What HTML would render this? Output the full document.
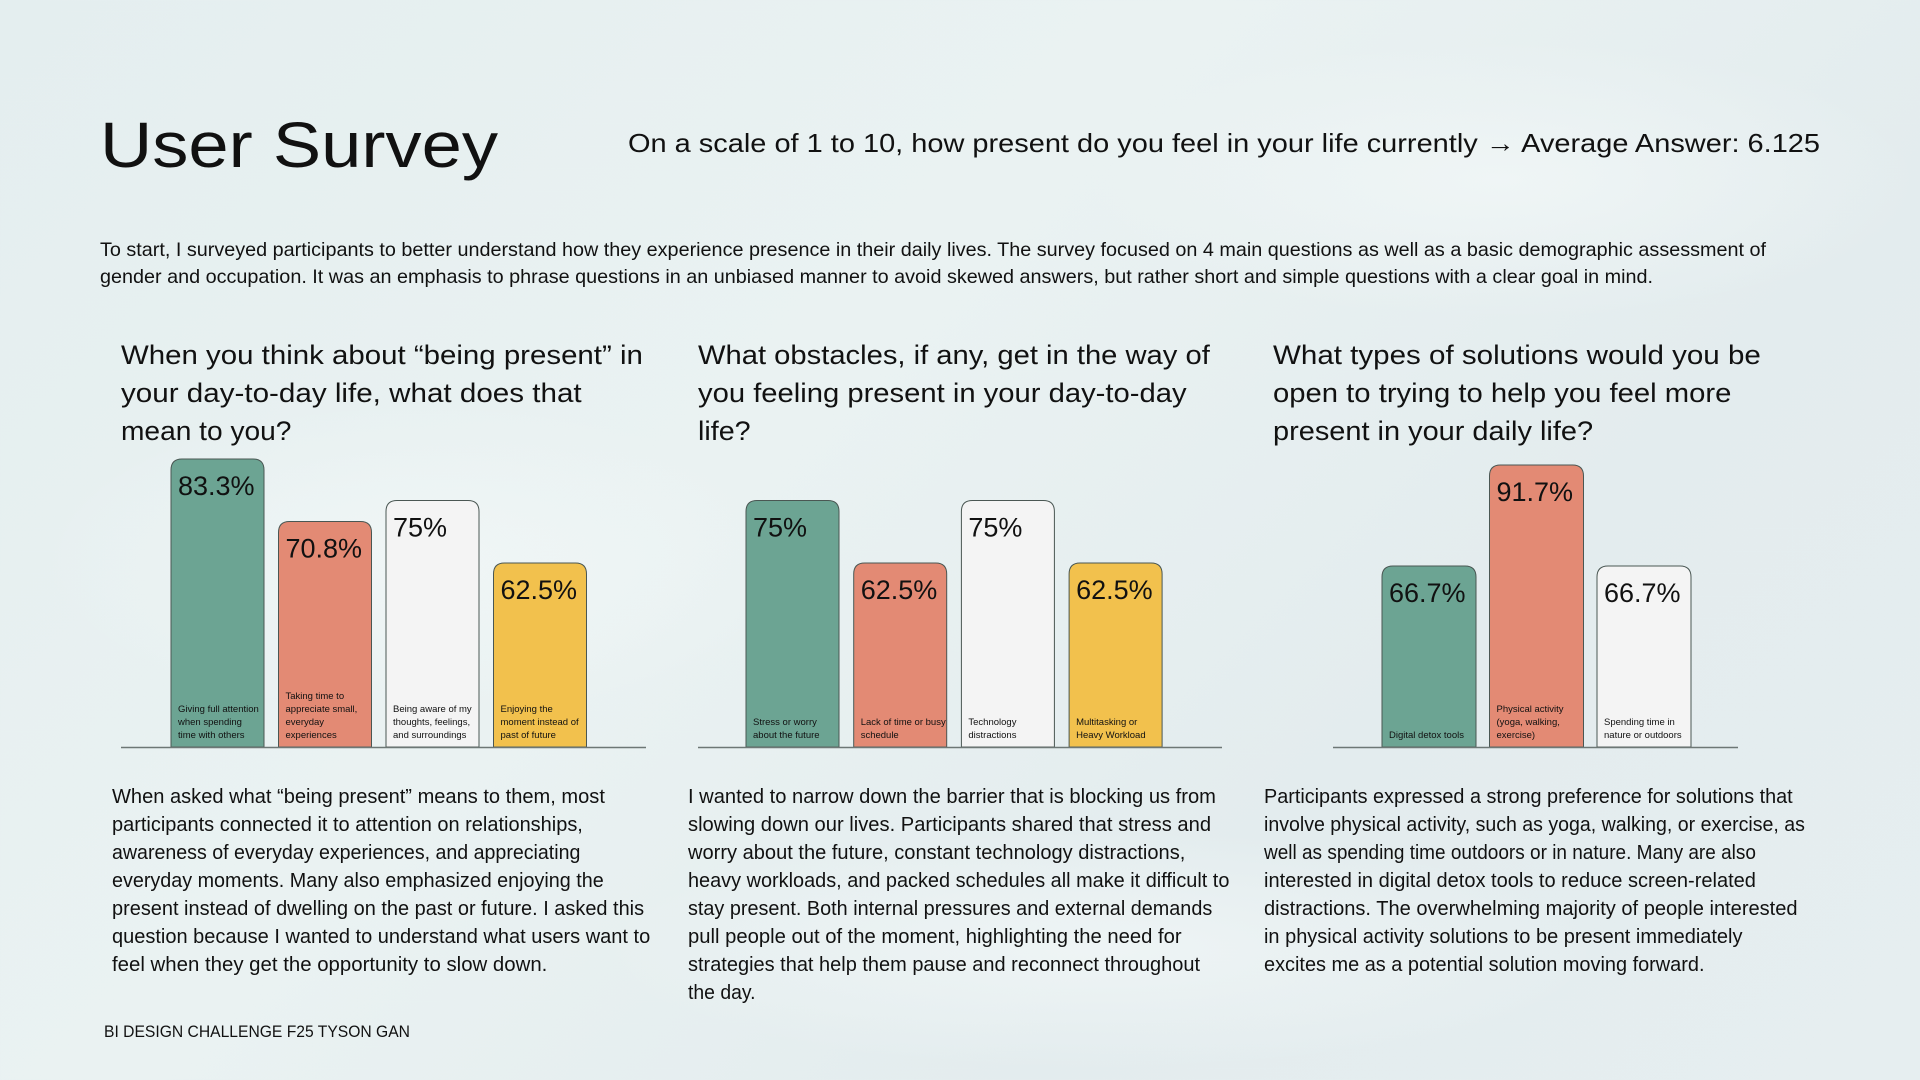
<!DOCTYPE html>
<html><head><meta charset="utf-8"><style>
html,body{margin:0;padding:0;width:1920px;height:1080px;overflow:hidden}
body{background:linear-gradient(135deg,#e4eeef 0%,#eaf2f2 40%,#e3ecee 70%,#e6eef0 100%)}
svg text{font-family:"Liberation Sans",sans-serif;fill:#111}
</style></head><body>
<svg id="page" width="1920" height="1080" viewBox="0 0 1920 1080" xmlns="http://www.w3.org/2000/svg">
<defs>
<radialGradient id="m1" cx="0.5" cy="0.5" r="0.5"><stop offset="0" stop-color="#f3f8f8" stop-opacity="0.7"/><stop offset="1" stop-color="#f3f8f8" stop-opacity="0"/></radialGradient>
</defs>
<g>
<ellipse cx="420" cy="560" rx="380" ry="160" fill="url(#m1)"/>
<ellipse cx="1500" cy="180" rx="420" ry="140" fill="url(#m1)"/>
<ellipse cx="1100" cy="950" rx="500" ry="120" fill="url(#m1)"/>
</g>
<g id="texts"></g>
<g id="charts"></g>
</svg>
<script>
// ---- chart data ----
const categories1 = [["Giving full attention","when spending","time with others"],["Taking time to","appreciate small,","everyday","experiences"],["Being aware of my","thoughts, feelings,","and surroundings"],["Enjoying the","moment instead of","past of future"]];
const values1 = [83.3, 70.8, 75, 62.5];
const valueLabels1 = ["83.3%","70.8%","75%","62.5%"];
const categories2 = [["Stress or worry","about the future"],["Lack of time or busy","schedule"],["Technology","distractions"],["Multitasking or","Heavy Workload"]];
const values2 = [75, 62.5, 75, 62.5];
const valueLabels2 = ["75%","62.5%","75%","62.5%"];
const categories3 = [["Digital detox tools"],["Physical activity","(yoga, walking,","exercise)"],["Spending time in","nature or outdoors"]];
const values3 = [66.7, 91.7, 66.7];
const valueLabels3 = ["66.7%","91.7%","66.7%"];

const NS="http://www.w3.org/2000/svg";
const S=1.2245;
function mk(tag,attrs,parent){const e=document.createElementNS(NS,tag);for(const k in attrs)e.setAttribute(k,attrs[k]);parent.appendChild(e);return e;}
function line(parent,name,txt,x,y,size,endX,weight){
  const t=mk('text',{x:x,y:y,'font-size':size},parent);
  
  
  if(weight)t.setAttribute('font-weight',weight);
  if(endX){t.setAttribute('textLength',endX-x);t.setAttribute('lengthAdjust','spacingAndGlyphs');}
  t.textContent=txt;return t;
}
const T=document.getElementById('texts');
line(T,'page-title','User Survey',100,167,64,498);
line(T,'average-answer-subtitle','On a scale of 1 to 10, how present do you feel in your life currently \u2192 Average Answer: 6.125',628,152,26,1820);
line(T,'intro-line-1','To start, I surveyed participants to better understand how they experience presence in their daily lives. The survey focused on 4 main questions as well as a basic demographic assessment of',100,256,19.5,1766);
line(T,'intro-line-2','gender and occupation. It was an emphasis to phrase questions in an unbiased manner to avoid skewed answers, but rather short and simple questions with a clear goal in mind.',100,283,19.5,1653);

const heads=[
 [121,[["When you think about \u201cbeing present\u201d in",525],["your day-to-day life, what does that",475],["mean to you?",238]]],
 [698,[["What obstacles, if any, get in the way of",988],["you feeling present in your day-to-day",969],["life?",613]]],
 [1273,[["What types of solutions would you be",1438],["open to trying to help you feel more",1414],["present in your daily life?",1301]]]];
heads.forEach((h,i)=>h[1].forEach((l,j)=>line(T,'question-'+(i+1)+'-line-'+(j+1),l[0],h[0],364+38*j,27,l[1]*S)));

const paras=[
 [112,[["When asked what \u201cbeing present\u201d means to them, most",494],["participants connected it to attention on relationships,",476],["awareness of everyday experiences, and appreciating",474],["everyday moments. Many also emphasized enjoying the",493],["present instead of dwelling on the past or future. I asked this",526],["question because I wanted to understand what users want to",531],["feel when they get the opportunity to slow down.",447]]],
 [688,[["I wanted to narrow down the barrier that is blocking us from",993],["slowing down our lives.  Participants shared that stress and",989],["worry about the future, constant technology distractions,",968],["heavy workloads, and packed schedules all make it difficult to",1004],["stay present. Both internal pressures and external demands",990],["pull people out of the moment, highlighting the need for",965],["strategies that help them pause and reconnect throughout",980],["the day.",617]]],
 [1264,[["Participants expressed a strong preference for solutions that",1464],["involve physical activity, such as yoga, walking, or exercise, as",1474],["well as spending time outdoors or in nature. Many are also",1434],["interested in digital detox tools to reduce screen-related",1434],["distractions. The overwhelming majority of people interested",1468],["in physical activity solutions to be present immediately",1423],["excites me as a potential solution moving forward.",1392]]]];
paras.forEach((p,i)=>p[1].forEach((l,j)=>line(T,'summary-'+(i+1)+'-line-'+(j+1),l[0],p[0],803+28*j,20,l[1]*S)));
line(T,'footer-credit','BI DESIGN CHALLENGE F25 TYSON GAN',104,1037,17,410);

// ---- charts ----
const colors=["#6ca493","#e38a74","#f4f4f4","#f2c14d"];
const C=document.getElementById('charts');
const baseY=747;
function drawChart(idx,cats,vals,labels,x0,pitch,barW,axisX1,axisX2,lo,H,cols){
  const g=mk('g',{},C);
  
  
  const y=v=>baseY-(v-lo)/(100-lo)*H;
  vals.forEach((v,i)=>{
    const x=x0+i*pitch, top=y(v), r=11;
    const p=mk('path',{d:`M${x},${baseY} L${x},${top+r} Q${x},${top} ${x+r},${top} L${x+barW-r},${top} Q${x+barW},${top} ${x+barW},${top+r} L${x+barW},${baseY} Z`,fill:cols[i],stroke:'#4a5753','stroke-width':1},g);
    
    
    const vt=mk('text',{x:x+7,y:top+36,'font-size':27},g);
    
    
    vt.textContent=labels[i];
    const ls=cats[i];
    ls.forEach((s,j)=>{
      const ct=mk('text',{x:x+7,y:738-13*(ls.length-1-j),'font-size':9.5,fill:'#2a2a2a'},g);
      
      
      ct.textContent=s;
    });
  });
  const ax=mk('line',{x1:axisX1,x2:axisX2,y1:baseY+0.5,y2:baseY+0.5,stroke:'#6d7775','stroke-width':1.5},g);
  
  
}
drawChart(1,categories1,values1,valueLabels1,171,107.5,93,121,646,25.7,371.5,colors);
drawChart(2,categories2,values2,valueLabels2,746,107.7,93,698,1222,25.7,371.5,colors);
drawChart(3,categories3,values3,valueLabels3,1382,107.5,94,1333,1738,21.9,315.6,colors);
</script>
</body></html>
